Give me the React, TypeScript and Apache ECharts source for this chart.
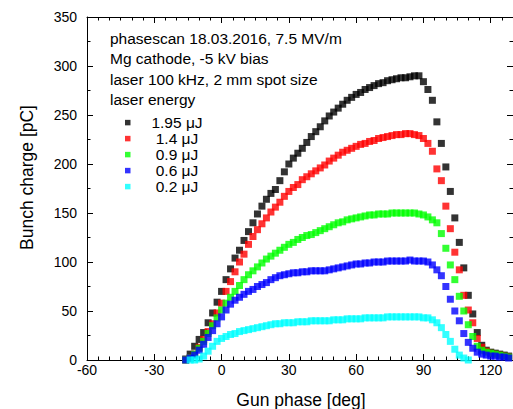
import React, { useEffect, useRef } from "react";
import * as echarts from "echarts";

// Gun phase [deg]
const phaseDeg = [
  -16, -14, -12, -10, -8, -6, -4, -2, 0, 2,
  4, 6, 8, 10, 12, 14, 16, 18, 20, 22,
  24, 26, 28, 30, 32, 34, 36, 38, 40, 42,
  44, 46, 48, 50, 52, 54, 56, 58, 60, 62,
  64, 66, 68, 70, 72, 74, 76, 78, 80, 82,
  84, 86, 88, 90, 92, 94, 96, 98, 100, 102,
  104, 106, 108, 110, 112, 114, 116, 118, 120, 122,
  124, 126, 128,
];

// Bunch charge [pC]
const charge195uJ = [
  1, 6, 14, 21, 28, 38, 48, 59, 70, 82,
  93, 104, 112, 122, 131, 140, 149, 157, 164, 170,
  174, 183, 192, 200, 206, 211, 216, 222, 228, 233,
  238, 244, 249, 253, 257, 261, 265, 268, 271, 273,
  276, 278, 280, 282, 283, 285, 286, 287, 288, 288,
  289, 290, 290, 284, 276, 265, 243, 221, 197, 172,
  145, 120, 94, 66, 47, 28, 15, 10, 8, 7,
  6, 5, 4,
];
const charge14uJ = [
  0, 2, 6, 13, 21, 29, 37, 48, 58, 70,
  80, 90, 100, 108, 118, 126, 133, 139, 145, 151,
  156, 161, 167, 172, 176, 179, 184, 187, 190, 193,
  196, 199, 203, 206, 209, 212, 214, 216, 218, 220,
  221, 223, 224, 226, 227, 228, 229, 230, 230, 231,
  231, 230, 229, 226, 221, 213, 195, 183, 157, 134,
  110, 92, 66, 51, 38, 22, 13, 9, 7, 6,
  5, 4, 3,
];
const charge09uJ = [
  0, 2, 6, 12, 19, 27, 35, 43, 51, 58,
  64, 70, 76, 82, 87, 91, 95, 99, 103, 106,
  109, 112, 115, 118, 120, 123, 125, 127, 128, 130,
  132, 134, 136, 138, 140, 141, 143, 144, 145, 146,
  147, 148, 148, 149, 149, 149, 150, 150, 150, 150,
  150, 150, 149, 148, 146, 143, 140, 129, 114, 97,
  82, 65, 50, 36, 24, 14, 10, 8, 7, 6,
  5, 4, 3,
];
const charge06uJ = [
  0, 2, 5, 10, 16, 23, 30, 37, 44, 51,
  57, 61, 64, 67, 70, 72, 75, 77, 79, 82,
  84, 86, 87, 88, 89, 89, 90, 90, 91, 91,
  91, 91, 92, 93, 94, 95, 96, 97, 98, 98,
  99, 99, 100, 100, 100, 101, 101, 101, 101, 101,
  102, 101, 101, 101, 100, 97, 92, 86, 75, 62,
  50, 40, 27, 18, 12, 8, 6, 5, 4, 4,
  3, 3, 2,
];
const charge02uJ: (number | null)[] = [
  null, 0, 0, 1, 4, 9, 14, 19, 22, 24,
  26, 27, 29, 30, 31, 32, 33, 34, 35, 36,
  37, 37, 38, 38, 38, 39, 39, 39, 40, 40,
  40, 40, 40, 41, 41, 41, 42, 42, 42, 42,
  43, 43, 43, 43, 43, 44, 44, 44, 44, 44,
  44, 44, 44, 43, 43, 41, 38, 33, 26, 19,
  11, 5, 2, 0, null, null, null, null, null, null,
  null, null, null,
];

const seriesNames = ["1.95 μJ", "1.4 μJ", "0.9 μJ", "0.6 μJ", "0.2 μJ"];
const seriesValues = [charge195uJ, charge14uJ, charge09uJ, charge06uJ, charge02uJ];
const seriesColors = ["#000000", "#ff0000", "#00ff00", "#0000ff", "#00ffff"];

const annotationLines = [
  "phasescan 18.03.2016, 7.5 MV/m",
  "Mg cathode, -5 kV bias",
  "laser 100 kHz, 2 mm spot size",
  "laser energy",
];

const xMin = -60;
const xMax = 150;
const xInterval = 30;
const xLastLabel = 120;
const yMin = 0;
const yMax = 350;
const yInterval = 50;

export default function App() {
  const ref = useRef<HTMLDivElement>(null);
  useEffect(() => {
    document.body.style.margin = "0";
    const chart = echarts.init(ref.current!, null, { renderer: "svg" });
    const font = "Arial, 'Liberation Sans', sans-serif";
    const lineStyle = { color: "#000", width: 1 };
    const xCommon = {
      type: "value" as const,
      min: xMin,
      max: xMax,
      interval: xInterval,
      axisLine: { show: true, onZero: false, lineStyle },
      axisTick: { show: true, inside: true, length: 6, lineStyle },
      minorTick: { show: true, splitNumber: 6, length: 3.5, lineStyle },
      splitLine: { show: false },
      minorSplitLine: { show: false },
    };
    const yCommon = {
      type: "value" as const,
      min: yMin,
      max: yMax,
      interval: yInterval,
      axisLine: { show: true, onZero: false, lineStyle },
      axisTick: { show: true, inside: true, length: 6, lineStyle },
      minorTick: { show: true, splitNumber: 2, length: 3.5, lineStyle },
      splitLine: { show: false },
      minorSplitLine: { show: false },
    };
    chart.setOption({
      animation: false,
      backgroundColor: "#ffffff",
      grid: {
        left: 87,
        right: -45,
        top: 17,
        bottom: 49,
        containLabel: false,
        outerBoundsMode: "none",
      },
      xAxis: [
        {
          ...xCommon,
          position: "bottom",
          axisLabel: {
            color: "#000",
            fontSize: 14,
            fontFamily: font,
            margin: 3,
            showMaxLabel: false,
            formatter: (v: number) => (v > xLastLabel ? "" : String(v)),
          },
        },
        { ...xCommon, position: "top", axisLabel: { show: false } },
      ],
      yAxis: [
        {
          ...yCommon,
          position: "left",
          axisLabel: { color: "#000", fontSize: 14, fontFamily: font, margin: 10 },
        },
        { ...yCommon, position: "right", offset: -45, axisLabel: { show: false } },
      ],
      legend: {
        orient: "vertical",
        left: 125,
        top: 114.6,
        padding: 0,
        itemGap: 0,
        itemWidth: 5.5,
        itemHeight: 5.5,
        icon: "rect",
        selectedMode: false,
        data: seriesNames,
        formatter: (n: string) => `{t|${n}}`,
        textStyle: {
          rich: {
            t: {
              width: 83,
              align: "center",
              fontSize: 15.5,
              fontFamily: font,
              color: "#000",
              lineHeight: 21.75,
            },
          },
        },
      },
      graphic: [
        ...annotationLines.map((t, i) => ({
          type: "text",
          x: 110,
          y: 38 + i * 20.5,
          style: {
            text: t,
            fontSize: 15.5,
            fontFamily: font,
            fill: "#000",
            align: "left",
            verticalAlign: "middle",
          },
        })),
        {
          type: "text",
          x: 27,
          y: 177.5,
          rotation: Math.PI / 2,
          style: {
            text: "Bunch charge [pC]",
            fontSize: 17.5,
            fontFamily: font,
            fill: "#000",
            align: "center",
            verticalAlign: "middle",
          },
        },
        {
          type: "text",
          x: 301,
          y: 400,
          style: {
            text: "Gun phase [deg]",
            fontSize: 17.5,
            fontFamily: font,
            fill: "#000",
            align: "center",
            verticalAlign: "middle",
          },
        },
      ],
      series: seriesValues.map((vals, si) => ({
        type: "scatter",
        name: seriesNames[si],
        xAxisIndex: 0,
        yAxisIndex: 0,
        symbol: "rect",
        symbolSize: 7,
        silent: true,
        itemStyle: { color: seriesColors[si] },
        data: phaseDeg
          .map((p, i) => [p, vals[i]])
          .filter((d) => d[1] !== null && d[1] !== undefined),
      })),
    });
    return () => chart.dispose();
  }, []);
  return <div ref={ref} style={{ width: 513, height: 409 }} />;
}
